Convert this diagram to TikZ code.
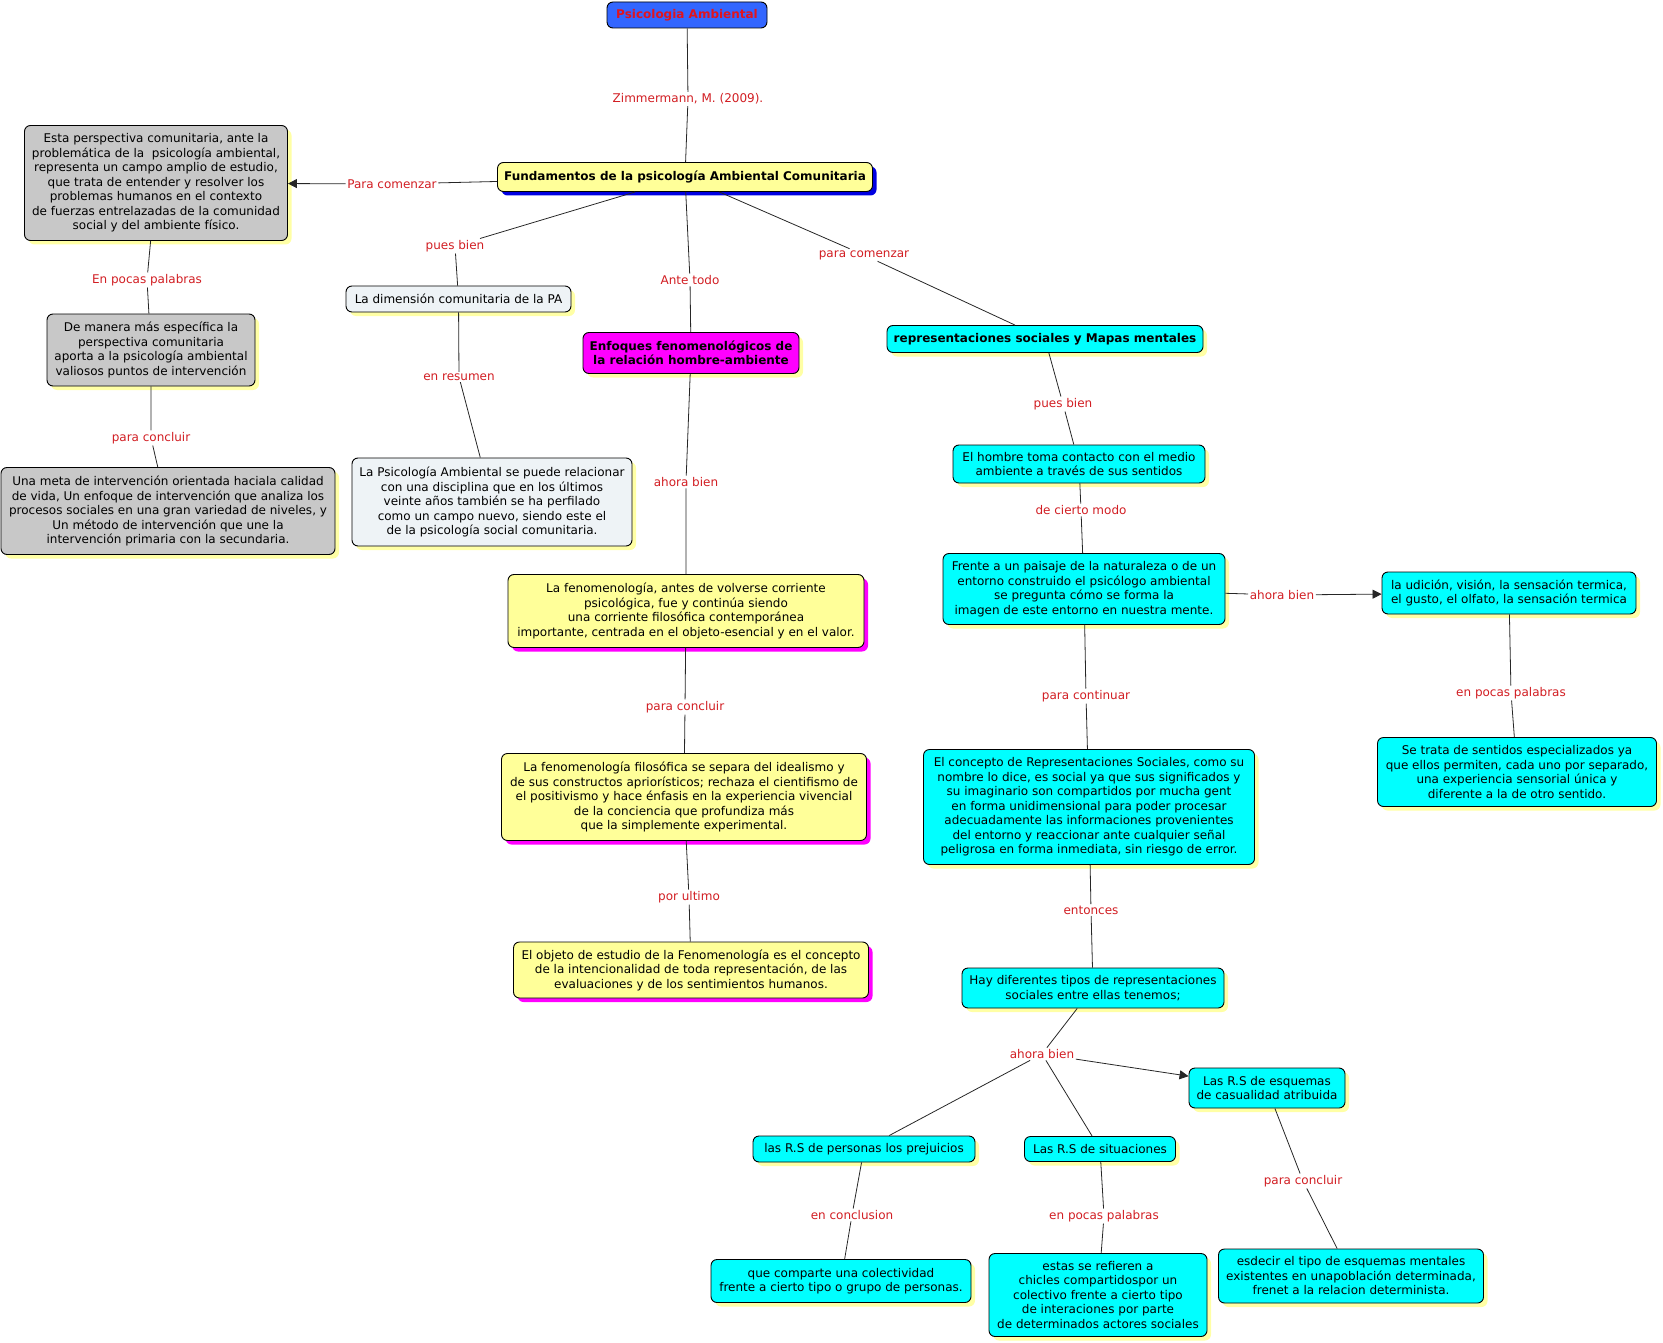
\documentclass[tikz,border=0pt]{standalone}
\usepackage{fontspec}
\setmainfont{DejaVu Sans}
\usetikzlibrary{arrows.meta,shadows}
\definecolor{azulcab}{RGB}{51,102,255}
\definecolor{rojotit}{RGB}{225,20,30}
\definecolor{amarillo}{RGB}{255,255,153}
\definecolor{sombraam}{RGB}{255,255,165}
\definecolor{grisc}{RGB}{200,200,200}
\definecolor{claro}{RGB}{238,243,246}
\definecolor{cian}{RGB}{0,255,255}
\definecolor{magen}{RGB}{255,0,255}
\definecolor{sombraaz}{RGB}{0,0,225}
\definecolor{rojolink}{RGB}{210,30,35}
\tikzset{
    concepto/.style={draw=black,rounded corners=6pt,line width=0.9pt,align=center,
        inner xsep=3pt,inner ysep=2pt,font=\fontsize{12}{14.5}\selectfont},
    sombraamarilla/.style={drop shadow={shadow xshift=4pt,shadow yshift=-4pt,fill=sombraam,opacity=1}},
    sombramagenta/.style={drop shadow={shadow xshift=4pt,shadow yshift=-4pt,fill=magen,opacity=1}},
    sombraazul/.style={drop shadow={shadow xshift=4pt,shadow yshift=-4pt,fill=sombraaz,opacity=1}},
    gris/.style={concepto,sombraamarilla,fill=grisc},
    clara/.style={concepto,sombraamarilla,fill=claro},
    cianbox/.style={concepto,sombraamarilla,fill=cian},
    amabox/.style={concepto,sombramagenta,fill=amarillo},
    negrita/.style={font=\fontsize{12}{14.5}\selectfont\bfseries},
    enlace/.style={fill=white,text=rojolink,inner sep=1.5pt,font=\fontsize{12}{13}\selectfont},
    linea/.style={line width=0.8pt,draw=black!85},
    flecha/.style={linea,-{Triangle[length=9pt,width=9pt]}}
}
\begin{document}
\begin{tikzpicture}[x=1pt,y=-1pt]
    \useasboundingbox (0,0) rectangle (1663,1343);

    % conceptos principales
    \node[concepto,negrita,fill=azulcab,text=rojotit,
        minimum width=160pt,minimum height=26pt] (psi) at (687,15) {Psicologia Ambiental};
    \node[concepto,negrita,sombraazul,fill=amarillo,
        minimum width=375pt,minimum height=29pt] (fund) at (685,177)
        {Fundamentos de la psicología Ambiental Comunitaria};

    % columna izquierda
    \node[gris,minimum width=263pt,minimum height=115pt] (esta) at (156,183)
        {Esta perspectiva comunitaria, ante la\\problemática de la \ psicología ambiental,\\
         representa un campo amplio de estudio,\\que trata de entender y resolver los\\
         problemas humanos en el contexto\\de fuerzas entrelazadas de la comunidad\\
         social y del ambiente físico.};
    \node[gris,minimum width=208pt,minimum height=72pt] (manera) at (151,350)
        {De manera más específica la\\perspectiva comunitaria\\
         aporta a la psicología ambiental\\valiosos puntos de intervención};
    \node[gris,minimum width=334pt,minimum height=87pt] (meta) at (168,511)
        {Una meta de intervención orientada haciala calidad\\
         de vida, Un enfoque de intervención que analiza los\\
         procesos sociales en una gran variedad de niveles, y\\
         Un método de intervención que une la\\
         intervención primaria con la secundaria.};

    \node[clara,minimum width=225pt,minimum height=26pt] (dim) at (458.5,299)
        {La dimensión comunitaria de la PA};
    \node[clara,minimum width=280pt,minimum height=88pt] (psa) at (492,502)
        {La Psicología Ambiental se puede relacionar\\con una disciplina que en los últimos\\
         veinte años también se ha perfilado\\como un campo nuevo, siendo este el\\
         de la psicología social comunitaria.};

    % columna central
    \node[concepto,negrita,sombraamarilla,fill=magen,
        minimum width=216pt,minimum height=41pt] (enf) at (691,353)
        {Enfoques fenomenológicos de\\la relación hombre-ambiente};
    \node[amabox,minimum width=356pt,minimum height=73pt] (fen1) at (686,611)
        {La fenomenología, antes de volverse corriente\\psicológica, fue y continúa siendo\\
         una corriente filosófica contemporánea\\
         importante, centrada en el objeto-esencial y en el valor.};
    \node[amabox,minimum width=365pt,minimum height=87pt] (fen2) at (684,797)
        {La fenomenología filosófica se separa del idealismo y\\
         de sus constructos apriorísticos; rechaza el cientifismo de\\
         el positivismo y hace énfasis en la experiencia vivencial\\
         de la conciencia que profundiza más\\que la simplemente experimental.};
    \node[amabox,minimum width=355pt,minimum height=56pt] (fen3) at (691,970)
        {El objeto de estudio de la Fenomenología es el concepto\\
         de la intencionalidad de toda representación, de las\\
         evaluaciones y de los sentimientos humanos.};

    % columna derecha
    \node[cianbox,negrita,minimum width=316pt,minimum height=27pt] (rep) at (1045,339)
        {representaciones sociales y Mapas mentales};
    \node[cianbox,minimum width=252pt,minimum height=38pt] (hombre) at (1079,464)
        {El hombre toma contacto con el medio\\ambiente a través de sus sentidos};
    \node[cianbox,minimum width=282pt,minimum height=71pt] (frente) at (1084,589)
        {Frente a un paisaje de la naturaleza o de un\\entorno construido el psicólogo ambiental\\
         se pregunta cómo se forma la\\imagen de este entorno en nuestra mente.};
    \node[cianbox,minimum width=254pt,minimum height=42pt] (udic) at (1509,593)
        {la udición, visión, la sensación termica,\\el gusto, el olfato, la sensación termica};
    \node[cianbox,minimum width=279pt,minimum height=69pt] (setrata) at (1517,772)
        {Se trata de sentidos especializados ya\\que ellos permiten, cada uno por separado,\\
         una experiencia sensorial única y\\diferente a la de otro sentido.};
    \node[cianbox,minimum width=331pt,minimum height=115pt] (concep) at (1089,807)
        {El concepto de Representaciones Sociales, como su\\
         nombre lo dice, es social ya que sus significados y\\
         su imaginario son compartidos por mucha gent\\
         en forma unidimensional para poder procesar\\
         adecuadamente las informaciones provenientes\\
         del entorno y reaccionar ante cualquier señal\\
         peligrosa en forma inmediata, sin riesgo de error.};
    \node[cianbox,minimum width=262pt,minimum height=40pt] (hay) at (1093,988)
        {Hay diferentes tipos de representaciones\\sociales entre ellas tenemos;};
    \node[cianbox,minimum width=222pt,minimum height=26pt] (pers) at (864,1149)
        {las R.S de personas los prejuicios};
    \node[cianbox,minimum width=151pt,minimum height=25pt] (sit) at (1100,1149)
        {Las R.S de situaciones};
    \node[cianbox,minimum width=156pt,minimum height=40pt] (esq) at (1267,1088)
        {Las R.S de esquemas\\de casualidad atribuida};
    \node[cianbox,minimum width=260pt,minimum height=43pt] (compa) at (841,1281)
        {que comparte una colectividad\\frente a cierto tipo o grupo de personas.};
    \node[cianbox,minimum width=218pt,minimum height=83pt] (estas) at (1098,1295)
        {estas se refieren a\\chicles compartidospor un\\colectivo frente a cierto tipo\\
         de interaciones por parte\\de determinados actores sociales};
    \node[cianbox,minimum width=265pt,minimum height=54pt] (esdec) at (1351,1276)
        {esdecir el tipo de esquemas mentales\\existentes en unapoblación determinada,\\
         frenet a la relacion determinista.};

    % palabras de enlace
    \node[enlace] (l1) at (688,99) {Zimmermann, M. (2009).};
    \node[enlace] (l2) at (392,184) {Para comenzar};
    \node[enlace] (l3) at (455,246) {pues bien};
    \node[enlace] (l4) at (690,280) {Ante todo};
    \node[enlace] (l5) at (864,255) {para comenzar};
    \node[enlace] (l6) at (147,280) {En pocas palabras};
    \node[enlace] (l7) at (151,438) {para concluir};
    \node[enlace] (l8) at (459,377) {en resumen};
    \node[enlace] (l9) at (686,482) {ahora bien};
    \node[enlace] (l10) at (685,707) {para concluir};
    \node[enlace] (l11) at (689,897) {por ultimo};
    \node[enlace] (l12) at (1063,404) {pues bien};
    \node[enlace] (l13) at (1081,510) {de cierto modo};
    \node[enlace] (l14) at (1282,595) {ahora bien};
    \node[enlace] (l15) at (1511,693) {en pocas palabras};
    \node[enlace] (l16) at (1086,696) {para continuar};
    \node[enlace] (l17) at (1091,910) {entonces};
    \node[enlace] (l18) at (1042,1054) {ahora bien};
    \node[enlace] (l19) at (852,1215) {en conclusion};
    \node[enlace] (l20) at (1104,1216) {en pocas palabras};
    \node[enlace] (l21) at (1303,1181) {para concluir};

    % conexiones
    \draw[linea] (psi) -- (l1) -- (fund);
    \draw[linea] (fund) -- (l2);
    \draw[flecha] (l2) -- (esta);
    \draw[linea] (esta) -- (l6) -- (manera);
    \draw[linea] (manera) -- (l7) -- (meta);
    \draw[linea] (fund) -- (l3) -- (dim);
    \draw[linea] (dim) -- (l8) -- (psa);
    \draw[linea] (fund) -- (l4) -- (enf);
    \draw[linea] (enf) -- (l9) -- (fen1);
    \draw[linea] (fen1) -- (l10) -- (fen2);
    \draw[linea] (fen2) -- (l11) -- (fen3);
    \draw[linea] (fund) -- (l5) -- (rep);
    \draw[linea] (rep) -- (l12) -- (hombre);
    \draw[linea] (hombre) -- (l13) -- (frente);
    \draw[linea] (frente) -- (l14);
    \draw[flecha] (l14) -- (udic);
    \draw[linea] (udic) -- (l15) -- (setrata);
    \draw[linea] (frente) -- (l16) -- (concep);
    \draw[linea] (concep) -- (l17) -- (hay);
    \draw[linea] (hay) -- (l18);
    \draw[linea] (l18) -- (pers);
    \draw[linea] (l18) -- (sit);
    \draw[flecha] (l18) -- (esq);
    \draw[linea] (pers) -- (l19) -- (compa);
    \draw[linea] (sit) -- (l20) -- (estas);
    \draw[linea] (esq) -- (l21) -- (esdec);
\end{tikzpicture}
\end{document}
